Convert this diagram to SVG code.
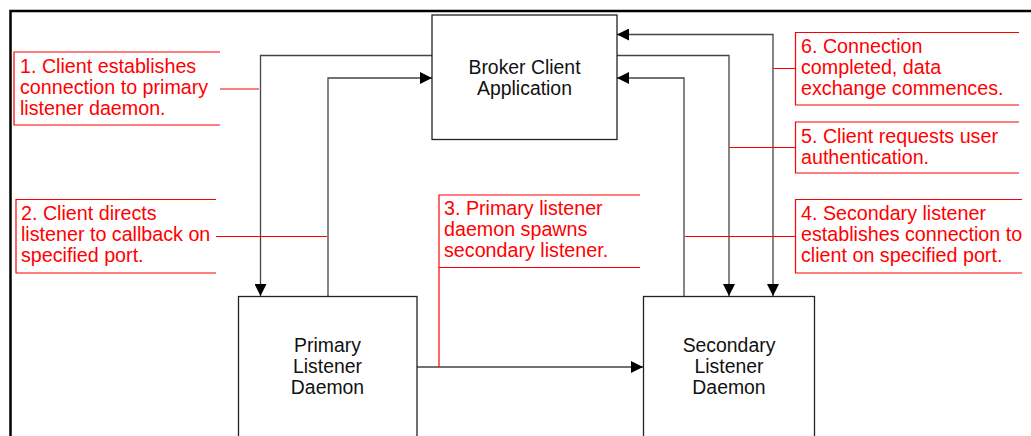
<svg xmlns="http://www.w3.org/2000/svg" width="1031" height="436" viewBox="0 0 1031 436">
<defs>
<style>
.box{fill:#fff;stroke:#222;stroke-width:1.3}
.btxt{font-family:"Liberation Sans",Arial,sans-serif;font-size:19.4px;fill:#111;text-anchor:middle}
.conn{fill:none;stroke:#444;stroke-width:1.3}
.lbl{fill:none;stroke:#f00;stroke-width:1.2}
.ltxt{font-family:"Liberation Sans",Arial,sans-serif;font-size:19.7px;fill:#f00}
</style>
<marker id="arr" markerUnits="userSpaceOnUse" markerWidth="12" markerHeight="12" refX="12" refY="6" orient="auto-start-reverse">
<path d="M0,0 L12,6 L0,12 Z" fill="#000"/>
</marker>
</defs>
<rect width="1031" height="436" fill="#fff"/>
<path d="M10.5,436 V11 H1031" fill="none" stroke="#000" stroke-width="2.5"/>

<g id="connectors">
<path class="conn" d="M432,55.5 H260.5 V296" marker-end="url(#arr)"/>
<path class="conn" d="M328,296.5 V78 H432" marker-end="url(#arr)"/>
<path class="conn" d="M617,55.5 H729 V296" marker-end="url(#arr)"/>
<path class="conn" d="M684,296.5 V78 H617" marker-end="url(#arr)"/>
<path class="conn" d="M617,34.5 H773 V296" marker-start="url(#arr)" marker-end="url(#arr)"/>
<path class="conn" d="M417,367 H643" marker-end="url(#arr)"/>
</g>

<g id="broker">
<rect class="box" x="432" y="15" width="185" height="124.5"/>
<text class="btxt" x="524.5" y="73.5">Broker Client</text>
<text class="btxt" x="524.5" y="94.5">Application</text>
</g>
<g id="primary">
<rect class="box" x="238.5" y="296.5" width="178.5" height="150"/>
<text class="btxt" x="327.5" y="352">Primary</text>
<text class="btxt" x="327.5" y="373">Listener</text>
<text class="btxt" x="327.5" y="394">Daemon</text>
</g>
<g id="secondary">
<rect class="box" x="643.5" y="296.5" width="171" height="150"/>
<text class="btxt" x="729" y="352">Secondary</text>
<text class="btxt" x="729" y="373">Listener</text>
<text class="btxt" x="729" y="394">Daemon</text>
</g>

<g id="label1">
<path class="lbl" d="M220,52 H14 V125 H220 M220,89 H259"/>
<text class="ltxt" x="20" y="73">1. Client establishes</text>
<text class="ltxt" x="20" y="94">connection to primary</text>
<text class="ltxt" x="20" y="115">listener daemon.</text>
</g>
<g id="label2">
<path class="lbl" d="M216,199.5 H16 V273 H216 M216,236.5 H327"/>
<text class="ltxt" x="21" y="219.5">2. Client directs</text>
<text class="ltxt" x="21" y="240.5">listener to callback on</text>
<text class="ltxt" x="21" y="261.5">specified port.</text>
</g>
<g id="label3">
<path class="lbl" d="M640,195 H439 V367 M439,267.5 H640"/>
<text class="ltxt" x="444" y="215">3. Primary listener</text>
<text class="ltxt" x="444" y="236">daemon spawns</text>
<text class="ltxt" x="444" y="257">secondary listener.</text>
</g>
<g id="label4">
<path class="lbl" d="M1022,199.5 H795.5 V273 H1022 M685,236.5 H795.5"/>
<text class="ltxt" x="801" y="219.5">4. Secondary listener</text>
<text class="ltxt" x="801" y="240.5">establishes connection to</text>
<text class="ltxt" x="801" y="261.5">client on specified port.</text>
</g>
<g id="label5">
<path class="lbl" d="M1019,122 H795.5 V173 H1019 M729.5,147.5 H795.5"/>
<text class="ltxt" x="801" y="142.5">5. Client requests user</text>
<text class="ltxt" x="801" y="163.5">authentication.</text>
</g>
<g id="label6">
<path class="lbl" d="M1019,32.5 H795.5 V105 H1019 M773.5,68.5 H795.5"/>
<text class="ltxt" x="801" y="53">6. Connection</text>
<text class="ltxt" x="801" y="74">completed, data</text>
<text class="ltxt" x="801" y="95">exchange commences.</text>
</g>
</svg>
